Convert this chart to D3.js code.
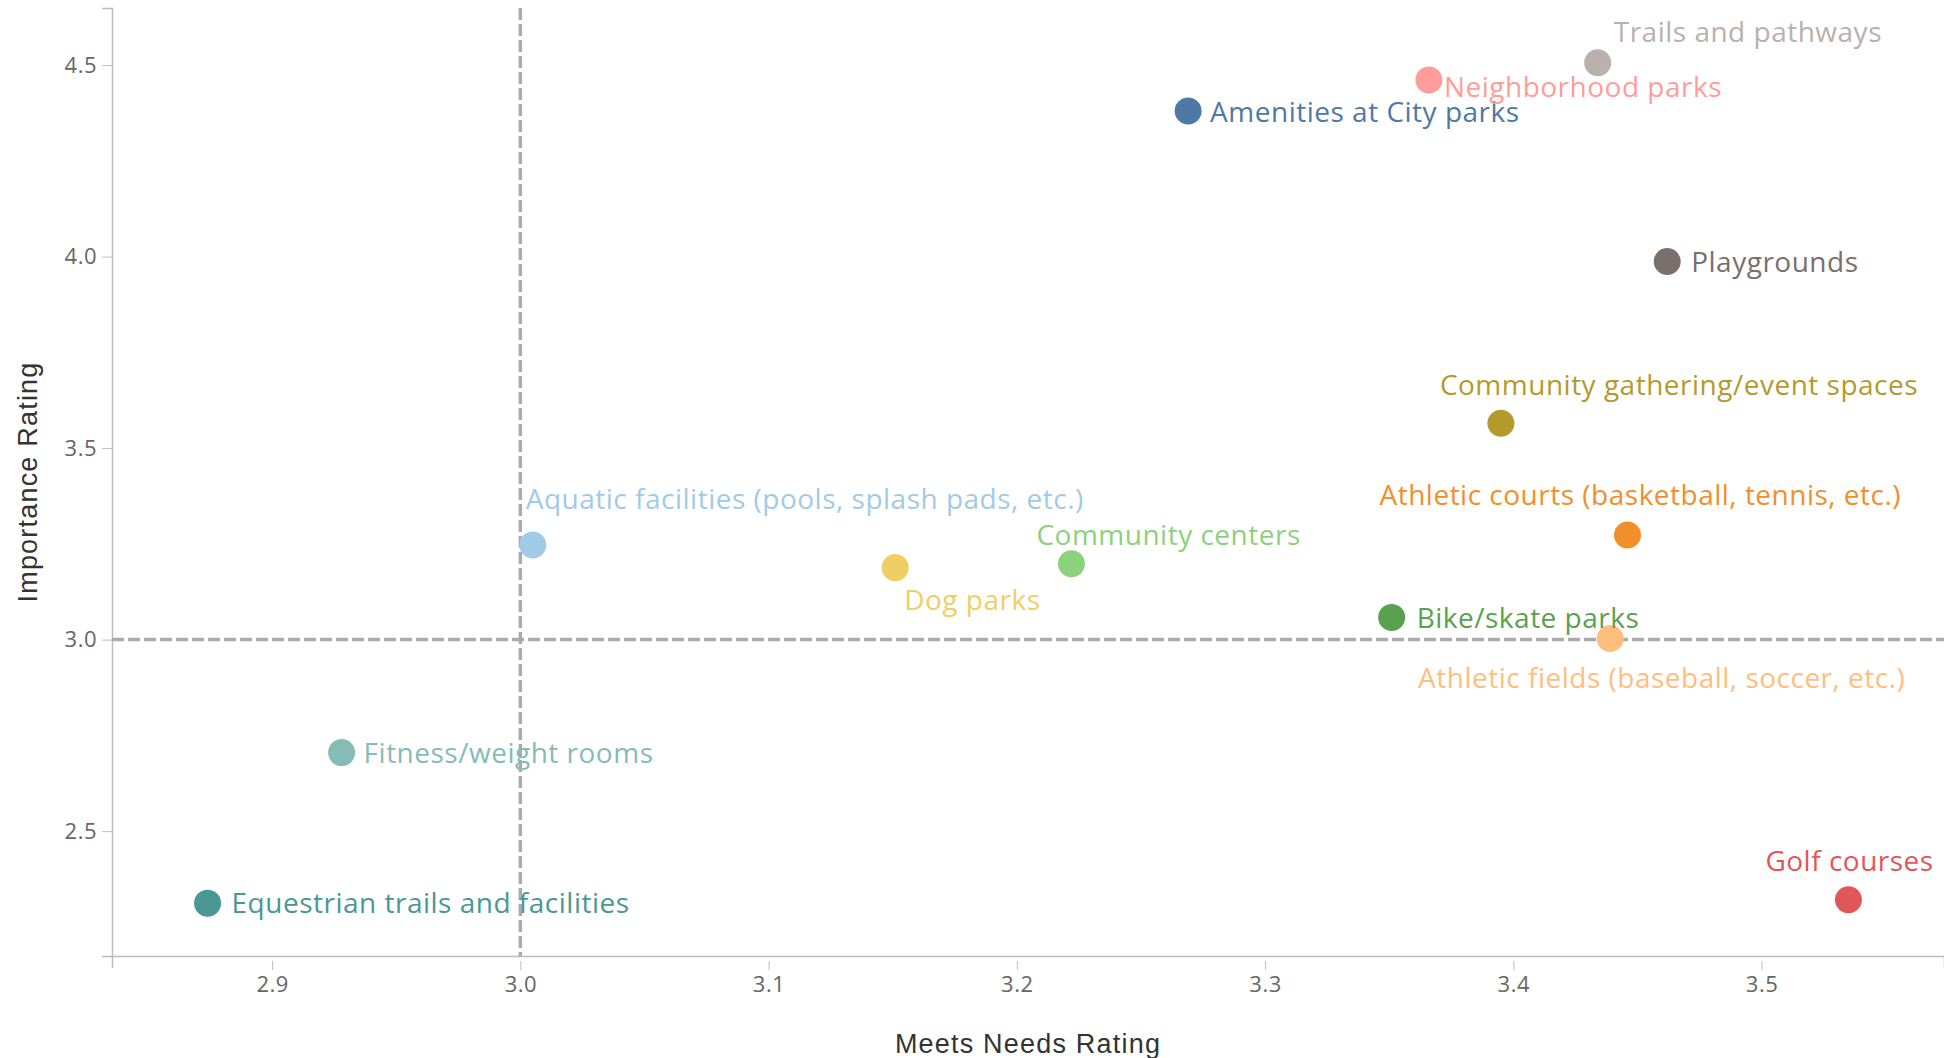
<!DOCTYPE html>
<html lang="en">
<head>
<meta charset="UTF-8" />
<title>Importance vs Meets Needs</title>
<style>
  body { margin: 0; background: #fff; }
  .tick text { font-family: "Open Sans", sans-serif; font-size: 22px; fill: #666; letter-spacing: 0.5px; }
  .axis path, .axis line { stroke: #bdbdbd; }
  .label { font-family: "Open Sans", sans-serif; font-size: 28px; letter-spacing: 0.5px; }
  .title { font-family: "Liberation Sans", sans-serif; font-size: 27px; fill: #333; letter-spacing: 1.2px; }
</style>
</head>
<body>
<svg width="1944" height="1058"></svg>
<script src="https://d3js.org/d3.v7.min.js"></script>
<script>
var names = ["Amenities at City parks", "Aquatic facilities (pools, splash pads, etc.)",
  "Athletic courts (basketball, tennis, etc.)", "Athletic fields (baseball, soccer, etc.)",
  "Bike/skate parks", "Community centers", "Community gathering/event spaces", "Dog parks",
  "Equestrian trails and facilities", "Fitness/weight rooms", "Golf courses",
  "Neighborhood parks", "Playgrounds", "Trails and pathways"];
var meetsNeeds = [3.269, 3.005, 3.446, 3.439, 3.351, 3.222, 3.395, 3.151, 2.874, 2.928, 3.535, 3.366, 3.462, 3.434];
var importance = [4.38, 3.247, 3.273, 3.003, 3.058, 3.198, 3.565, 3.188, 2.312, 2.705, 2.321, 4.461, 3.987, 4.506];
var colors = ["#4e79a7", "#a0cbe8", "#f28e2b", "#ffbe7d", "#59a14f", "#8cd17d", "#b6992d", "#f1ce63",
  "#499894", "#86bcb6", "#e15759", "#ff9d9a", "#79706e", "#bab0ac"];
var xTicks = [2.9, 3.0, 3.1, 3.2, 3.3, 3.4, 3.5];
var yTicks = [2.5, 3.0, 3.5, 4.0, 4.5];
var refX = 3.0, refY = 3.0;

// label offsets from the point (text start, vertical centre)
var labelDx = [22, -7, -248, -192, 25, -35, -61, 9, 24, 22, -83, 15, 24, 16];
var labelDy = [1, -46, -40, 40, 1, -29, -38, 33, 0, 1, -38, 7, 1, -31];

var svg = d3.select("svg"),
    margin = {top: 8, right: 0, bottom: 102, left: 112},
    width = +svg.attr("width") - margin.left - margin.right,
    height = +svg.attr("height") - margin.top - margin.bottom;

var x = d3.scaleLinear().domain([2.8355, 3.5735]).range([0, width]);
var y = d3.scaleLinear().domain([2.174, 4.649]).range([height, 0]);

var g = svg.append("g")
    .attr("transform", "translate(" + margin.left + "," + margin.top + ")");

var data = names.map(function(n, i) {
  return {name: n, x: meetsNeeds[i], y: importance[i], color: colors[i], dx: labelDx[i], dy: labelDy[i]};
});

// X axis
var xa = g.append("g")
    .attr("class", "axis")
    .attr("transform", "translate(0," + height + ")")
    .call(d3.axisBottom(x).tickValues(xTicks).tickFormat(d3.format(".1f")).tickSizeOuter(0).tickSize(12).tickPadding(8));
xa.select(".domain").attr("stroke-width", 1.5);
xa.selectAll(".tick line").attr("y1", 5).attr("y2", 14);

// Y axis
var ya = g.append("g")
    .attr("class", "axis")
    .call(d3.axisLeft(y).tickValues(yTicks).tickFormat(d3.format(".1f")).tickSizeOuter(0).tickSize(10).tickPadding(5));
ya.select(".domain").attr("stroke-width", 1.5);

// reference lines
g.append("line")
    .attr("x1", x(refX)).attr("x2", x(refX))
    .attr("y1", 0).attr("y2", height)
    .attr("stroke", "#aaa").attr("stroke-width", 3.5).attr("stroke-dasharray", "12,4");
g.append("line")
    .attr("x1", 0).attr("x2", width)
    .attr("y1", y(refY)).attr("y2", y(refY))
    .attr("stroke", "#aaa").attr("stroke-width", 3.5).attr("stroke-dasharray", "12,4");

// points
g.selectAll(".dot")
    .data(data)
    .enter().append("circle")
    .attr("class", "dot")
    .attr("cx", function(d) { return x(d.x); })
    .attr("cy", function(d) { return y(d.y); })
    .attr("r", 13.5)
    .attr("fill", function(d) { return d.color; });

// labels
g.selectAll(".label")
    .data(data)
    .enter().append("text")
    .attr("class", "label")
    .attr("x", function(d) { return x(d.x) + d.dx; })
    .attr("y", function(d) { return y(d.y) + d.dy; })
    .attr("dy", "0.35em")
    .attr("fill", function(d) { return d.color; })
    .text(function(d) { return d.name; });

// axis titles
svg.append("text")
    .attr("class", "title")
    .attr("x", margin.left + width / 2)
    .attr("y", 1053)
    .style("text-anchor", "middle")
    .text("Meets Needs Rating");

svg.append("text")
    .attr("class", "title")
    .attr("transform", "translate(37," + (margin.top + height / 2) + ") rotate(-90)")
    .style("text-anchor", "middle")
    .text("Importance Rating");
</script>
</body>
</html>
